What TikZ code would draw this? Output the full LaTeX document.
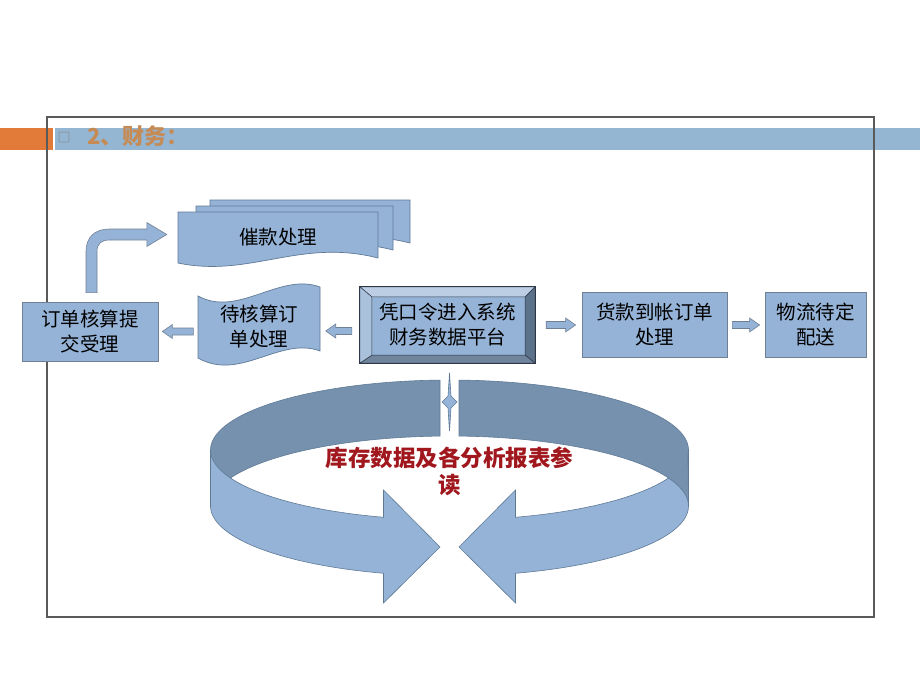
\documentclass[tikz,border=0pt]{standalone}
\usepackage{fontspec}
\newfontfamily\cjk{Noto Sans CJK SC}
\usetikzlibrary{positioning,calc}

\definecolor{boxblue}{RGB}{149,179,215}
\definecolor{boxedge}{RGB}{112,128,148}
\definecolor{ringdark}{RGB}{117,145,173}
\definecolor{ringedge}{RGB}{96,122,150}
\definecolor{barblue}{RGB}{148,182,210}
\definecolor{barorange}{RGB}{226,122,58}
\definecolor{titletan}{RGB}{198,138,84}
\definecolor{readred}{RGB}{160,24,30}
\definecolor{framegray}{RGB}{90,90,90}
\definecolor{bevtop}{RGB}{188,206,228}
\definecolor{bevleft}{RGB}{170,193,220}
\definecolor{bevright}{RGB}{92,113,138}
\definecolor{bevbottom}{RGB}{112,132,156}
\definecolor{bevline}{RGB}{45,55,70}

% block arrow between two points at the same height
\newcommand{\blockarr}[2]{%
  \path #1 coordinate (ba-s) #2 coordinate (ba-e);
  \coordinate (ba-h) at ($(ba-e)!10pt!(ba-s)$);
  \filldraw[smallarrow] ($(ba-s)!3.5pt!90:(ba-e)$) -- ($(ba-h)!3.5pt!90:(ba-e)$)
    -- ($(ba-h)!7pt!90:(ba-e)$) -- (ba-e) -- ($(ba-h)!7pt!-90:(ba-e)$)
    -- ($(ba-h)!3.5pt!-90:(ba-e)$) -- ($(ba-s)!3.5pt!-90:(ba-e)$) -- cycle;}

% one sheet of the document stack: x0, y0, width, height
\newcommand{\docsheet}[4]{%
  \filldraw[sheet] (#1,#2) -- ({#1+#3},#2) -- ({#1+#3},{#2+#4-5})
    .. controls ({#1+0.61*#3},{#2+#4-25}) and ({#1+0.36*#3},{#2+#4+15}) .. (#1,{#2+#4}) -- cycle;}

\begin{document}
\begin{tikzpicture}[x=1pt, y=-1pt,
  every node/.style={font=\cjk\fontsize{19.5}{25}\selectfont, align=center},
  box/.style={draw=boxedge, fill=boxblue, line width=0.8pt, inner sep=2pt},
  sheet/.style={fill=boxblue, draw=ringedge, line width=0.7pt},
  smallarrow/.style={fill=boxblue, draw=boxedge, line width=0.6pt},
  ringback/.style={fill=ringdark, draw=ringedge, line width=0.6pt},
  ringfront/.style={fill=boxblue, draw=ringedge, line width=0.6pt},
  bevel/.style={draw=bevline, line width=0.5pt}]

\useasboundingbox (0,0) rectangle (920,690);

% ---- title bar ----
\fill[barorange] (0,128) rectangle (53,150);
\fill[barblue] (55,128) rectangle (920,150);
\draw[framegray, line width=1.2pt] (47,117) rectangle (874,617);
\node[text=gray, font=\cjk\fontsize{13}{13}\selectfont, inner sep=0pt] (bullet) at (64,138) {□};
\node[text=titletan, anchor=west, inner sep=0pt, font=\cjk\bfseries\fontsize{22}{22}\selectfont] (title) at (87,136.5) {2、财务：};

% ---- document stack ----
\docsheet{210}{200}{200}{48}
\docsheet{196}{206}{197}{49}
\docsheet{178}{212}{200}{51}
\node[minimum width=200pt, minimum height=51pt] (dun) at (278,237.5) {催款处理};

% ---- punched tape ----
\filldraw[sheet] (198,296) .. controls (238,318) and (280,272) .. (320,287) -- (320,351)
  .. controls (280,336) and (240,382) .. (198,358) -- cycle;
\node[minimum width=123pt, minimum height=60pt] (wait) at (259,327) {待核算订\\单处理};

% ---- boxes ----
\node[box, minimum width=136pt, minimum height=59pt] (order) at (90,331.5) {订单核算提\\交受理};
\node[box, minimum width=145pt, minimum height=65pt] (payment) at (654.5,325) {货款到帐订单\\处理};
\node[box, minimum width=101pt, minimum height=65pt] (logistics) at (815.5,325) {物流待定\\配送};

% ---- bevel box ----
\node[fill=boxblue, minimum width=175pt, minimum height=76pt, inner sep=0pt] (platform) at (447.5,325) {凭口令进入系统\\财务数据平台};
\coordinate (pi-nw) at ($(platform.north west)+(12,10)$);
\coordinate (pi-ne) at ($(platform.north east)+(-10,10)$);
\coordinate (pi-se) at ($(platform.south east)+(-10,-8)$);
\coordinate (pi-sw) at ($(platform.south west)+(12,-8)$);
\filldraw[bevel, fill=bevtop] (platform.north west) -- (platform.north east) -- (pi-ne) -- (pi-nw) -- cycle;
\filldraw[bevel, fill=bevright] (platform.north east) -- (platform.south east) -- (pi-se) -- (pi-ne) -- cycle;
\filldraw[bevel, fill=bevbottom] (platform.south east) -- (platform.south west) -- (pi-sw) -- (pi-se) -- cycle;
\filldraw[bevel, fill=bevleft] (platform.south west) -- (platform.north west) -- (pi-nw) -- (pi-sw) -- cycle;
\draw[bevline, line width=1pt] (platform.north west) rectangle (platform.south east);

% ---- small arrows ----
\blockarr{($(wait.west |- order.east)+(-4,0)$)}{($(order.east)+(4,0)$)}
\blockarr{($(platform.west)+(-8,6)$)}{($(wait.east)+(5,4)$)}
\blockarr{($(platform.east)+(11,0)$)}{($(payment.west)+(-6,0)$)}
\blockarr{($(payment.east)+(5,0)$)}{($(logistics.west)+(-5,0)$)}

% ---- bent arrow ----
\coordinate (bs) at ($(order.north)+(1.5,-9)$);
\coordinate (bt) at ($(dun.west)+(-11,-3)$);
\filldraw[smallarrow] ($(bs)+(-5.5,0)$) -- ($(bs|-bt)+(-5.5,17)$)
  .. controls ($(bs|-bt)+(-5.5,3)$) and ($(bs|-bt)+(3,-5.5)$) .. ($(bs|-bt)+(18,-5.5)$)
  -- ($(bt)+(-20,-5.5)$) -- ($(bt)+(-20,-12)$) -- (bt) -- ($(bt)+(-20,12)$) -- ($(bt)+(-20,5.5)$)
  -- ($(bs|-bt)+(18,5.5)$) .. controls ($(bs|-bt)+(10,5.5)$) and ($(bs|-bt)+(5.5,9)$) .. ($(bs|-bt)+(5.5,17)$)
  -- ($(bs)+(5.5,0)$) -- cycle;

% ---- ring of two arrows ----
\filldraw[ringback] plot[domain=92.28:180, samples=40] ({449.5+239*cos(\x)},{450-70*sin(\x)})
  -- plot[domain=180:92.28, samples=40] ({449.5+239*cos(\x)},{506-70*sin(\x)}) -- cycle;
\filldraw[ringfront] plot[domain=180:253.97, samples=40] ({449.5+239*cos(\x)},{450-70*sin(\x)})
  -- (383.5,490) -- (440,547) -- (383.5,603)
  -- plot[domain=253.97:180, samples=40] ({449.5+239*cos(\x)},{506-70*sin(\x)}) -- cycle;
\filldraw[ringfront] plot[domain=0:-73.97, samples=40] ({449.5+239*cos(\x)},{450-70*sin(\x)})
  -- (515.5,490) -- (459,547) -- (515.5,603)
  -- plot[domain=-73.97:0, samples=40] ({449.5+239*cos(\x)},{506-70*sin(\x)}) -- cycle;
\filldraw[ringback] plot[domain=87.72:-4, samples=40] ({449.5+239*cos(\x)},{450-70*sin(\x)})
  -- plot[domain=0:87.72, samples=40] ({449.5+239*cos(\x)},{506-70*sin(\x)}) -- cycle;

% star between the two arrow ends
\filldraw[ringfront] (449.5,373) -- (451,396) -- (457,402) -- (451,408) -- (449.5,431)
  -- (448,408) -- (442,402) -- (448,396) -- cycle;

\node[text=readred, font=\cjk\bfseries\fontsize{22.5}{27}\selectfont] (read) at (449.5,471.5) {库存数据及各分析报表参\\读};

\end{tikzpicture}
\end{document}
